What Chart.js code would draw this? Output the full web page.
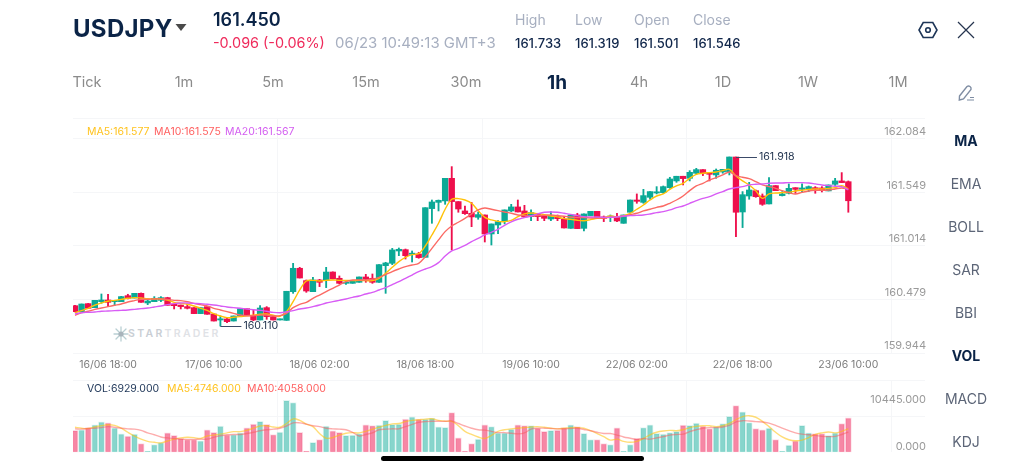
<!DOCTYPE html>
<html>
<head>
<meta charset="utf-8">
<script src="https://cdn.jsdelivr.net/npm/chart.js@4/dist/chart.umd.min.js"></script>
<style>
html,body{margin:0;padding:0;background:#fff;overflow:hidden}
body{width:1024px;height:471px;position:relative;font-family:Inter,"Noto Sans",sans-serif}
canvas{position:absolute;left:0}
.t{position:absolute;white-space:nowrap;line-height:1;transform:translateY(-50%)}
.c{transform:translate(-50%,-50%)}
.tab{font-size:14.5px;color:#8b8b8b;top:82px}
.side{font-size:14px;color:#5c6577;left:966px}
.hd{font-size:14px;color:#a7afc0;top:20px}
.val{font-size:13px;color:#10264a;font-weight:500;top:43px}
.ma{font-size:10.5px}
</style>
</head>
<body>
<div class="t" style="left:114px;top:334px;font-size:10.5px;letter-spacing:2.3px;color:#c9ced4;font-weight:600;margin-left:14px">STAR<span style="color:#dfe2e6">TRADER</span></div>
<svg style="position:absolute;left:113px;top:326px" width="16" height="16" viewBox="0 0 16 16"><g stroke="#b9cfd3" stroke-width="1.3" stroke-linecap="round"><path d="M8 1v14M1 8h14M3 3l10 10M13 3L3 13"/></g><circle cx="8" cy="8" r="2.6" fill="#a8b4bb"/></svg>
<canvas id="priceChart" width="1024" height="373" style="top:0;width:1024px;height:373px"></canvas>
<canvas id="volumeChart" width="1024" height="98" style="top:373px;width:1024px;height:98px"></canvas>

<div class="t" style="left:73px;top:29px;font-size:24px;font-weight:700;color:#0b2447;letter-spacing:.3px">USDJPY</div>
<svg style="position:absolute;left:175px;top:23px" width="12" height="9"><path d="M0.5 1h11L6 8z" fill="#4a4a4a"/></svg>
<div class="t" style="left:213px;top:20px;font-size:18px;font-weight:600;color:#0b2447">161.450</div>
<div class="t" style="left:213px;top:43px;font-size:14.4px;color:#ef2a5b">-0.096 (-0.06%)</div>
<div class="t" style="left:335px;top:43px;font-size:14.9px;color:#a7afc0">06/23 10:49:13 GMT+3</div>
<div class="t hd" style="left:515px">High</div><div class="t hd" style="left:575px">Low</div>
<div class="t hd" style="left:634px">Open</div><div class="t hd" style="left:693px">Close</div>
<div class="t val" style="left:515px">161.733</div><div class="t val" style="left:575px">161.319</div>
<div class="t val" style="left:634px">161.501</div><div class="t val" style="left:693px">161.546</div>
<svg style="position:absolute;left:917px;top:20px" width="22" height="20" viewBox="0 0 22 20" fill="none" stroke="#1d3557" stroke-width="1.6"><path d="M6.2 2.5h9.6L20 10l-4.2 7.5H6.2L2 10z"/><circle cx="11" cy="10" r="2.3"/></svg>
<svg style="position:absolute;left:957px;top:21px" width="18" height="18" fill="none" stroke="#26354f" stroke-width="1.2"><path d="M1 1l16 16M17 1L1 17"/></svg>

<div class="t tab c" style="left:87px">Tick</div><div class="t tab c" style="left:184px">1m</div>
<div class="t tab c" style="left:273px">5m</div><div class="t tab c" style="left:366px">15m</div>
<div class="t tab c" style="left:466px">30m</div>
<div class="t tab c" style="left:557px;font-size:19px;font-weight:700;color:#0b2447">1h</div>
<div class="t tab c" style="left:639px">4h</div><div class="t tab c" style="left:723px">1D</div>
<div class="t tab c" style="left:808px">1W</div><div class="t tab c" style="left:898px">1M</div>

<svg style="position:absolute;left:957px;top:84px" width="19" height="18" viewBox="0 0 19 18" fill="none" stroke="#7f8da3" stroke-width="1.4"><path d="M2.5 12L10 2.5q1.5-1 3 0t1 3L6.5 15l-4.2 1z"/><path d="M10 16h7M13 13.5h4" stroke-width="1.2"/></svg>
<div class="t side c" style="top:141px;font-weight:700;color:#0b2447">MA</div>
<div class="t side c" style="top:184px">EMA</div><div class="t side c" style="top:227px">BOLL</div>
<div class="t side c" style="top:270px">SAR</div><div class="t side c" style="top:313px">BBI</div>
<div class="t side c" style="top:356px;font-weight:700;color:#0b2447">VOL</div>
<div class="t side c" style="top:399px">MACD</div><div class="t side c" style="top:442px">KDJ</div>

<div class="t ma" style="left:87px;top:132px;color:#ffc31f">MA5:161.577</div>
<div class="t ma" style="left:154px;top:132px;color:#ff6060">MA10:161.575</div>
<div class="t ma" style="left:225px;top:132px;color:#d35cf0">MA20:161.567</div>
<div class="t ma" style="left:87px;top:389px;color:#1d3557">VOL:6929.000</div>
<div class="t ma" style="left:167px;top:389px;color:#ffc31f">MA5:4746.000</div>
<div class="t ma" style="left:247px;top:389px;color:#ff6060">MA10:4058.000</div>

<div style="position:absolute;left:381px;top:456px;width:263px;height:5px;border-radius:3px;background:#000"></div>

<script>
// USD/JPY hourly bars
const opens = [160.328,160.264,160.350,160.307,160.371,160.389,160.371,160.371,160.435,160.410,
160.460,160.357,160.371,160.385,160.414,160.346,160.335,160.318,160.307,160.243,
160.318,160.239,160.175,160.186,160.164,160.218,160.296,160.225,160.175,160.307,
160.211,160.175,160.171,160.478,160.728,160.596,160.478,160.603,160.603,160.688,
160.621,160.567,160.567,160.578,160.635,160.621,160.578,160.756,160.781,160.913,
160.927,160.877,160.881,160.845,161.366,161.433,161.448,161.690,161.441,161.341,
161.316,161.273,161.298,161.095,161.191,161.230,161.341,161.384,161.341,161.280,
161.305,161.287,161.255,161.280,161.255,161.155,161.298,161.155,161.291,161.337,
161.277,161.273,161.280,161.209,161.327,161.458,161.433,161.487,161.533,161.537,
161.590,161.662,161.712,161.690,161.744,161.783,161.751,161.726,161.758,161.761,
161.918,161.330,161.501,161.558,161.501,161.416,161.612,161.505,161.530,161.590,
161.572,161.576,161.590,161.587,161.555,161.626,161.662,161.654];
const highs = [160.332,160.346,160.352,160.385,160.453,160.450,160.385,160.428,160.450,160.460,
160.464,160.389,160.425,160.425,160.418,160.346,160.335,160.346,160.307,160.307,
160.318,160.239,160.218,160.193,160.218,160.296,160.296,160.282,160.328,160.318,
160.221,160.186,160.482,160.781,160.738,160.603,160.631,160.610,160.738,160.690,
160.646,160.585,160.592,160.635,160.663,160.667,160.767,160.792,160.941,160.945,
160.934,160.913,160.899,161.376,161.458,161.458,161.690,161.815,161.441,161.394,
161.433,161.330,161.298,161.202,161.237,161.352,161.412,161.458,161.401,161.352,
161.316,161.298,161.334,161.298,161.280,161.298,161.316,161.309,161.337,161.337,
161.287,161.298,161.316,161.298,161.458,161.523,161.572,161.548,161.601,161.608,
161.701,161.712,161.712,161.772,161.797,161.783,161.751,161.790,161.786,161.918,
161.918,161.548,161.647,161.565,161.523,161.697,161.612,161.548,161.630,161.590,
161.630,161.608,161.601,161.601,161.619,161.690,161.751,161.662];
const lows = [160.260,160.264,160.300,160.307,160.353,160.318,160.332,160.371,160.400,160.410,
160.364,160.339,160.371,160.371,160.332,160.293,160.293,160.293,160.243,160.243,
160.236,160.164,160.110,160.146,160.164,160.218,160.225,160.168,160.175,160.182,
160.175,160.175,160.171,160.460,160.624,160.471,160.478,160.532,160.521,160.614,
160.560,160.556,160.567,160.578,160.578,160.567,160.578,160.460,160.767,160.863,
160.827,160.795,160.835,160.845,161.209,161.341,161.412,160.924,161.327,161.305,
161.173,161.252,161.009,160.977,161.098,161.202,161.334,161.330,161.270,161.237,
161.237,161.237,161.237,161.237,161.159,161.155,161.152,161.127,161.291,161.273,
161.227,161.227,161.227,161.209,161.327,161.423,161.423,161.466,161.523,161.530,
161.583,161.647,161.619,161.662,161.733,161.719,161.662,161.690,161.744,161.726,
161.066,161.163,161.466,161.487,161.401,161.416,161.558,161.501,161.523,161.530,
161.537,161.548,161.530,161.544,161.555,161.612,161.644,161.327];
const closes = [160.264,160.346,160.300,160.385,160.389,160.364,160.385,160.425,160.407,160.460,
160.364,160.378,160.407,160.414,160.332,160.328,160.318,160.300,160.243,160.307,
160.236,160.164,160.186,160.157,160.218,160.296,160.225,160.175,160.303,160.211,
160.175,160.186,160.482,160.728,160.624,160.485,160.603,160.578,160.688,160.614,
160.567,160.581,160.592,160.635,160.610,160.578,160.767,160.785,160.924,160.931,
160.863,160.884,160.842,161.376,161.437,161.455,161.690,161.441,161.362,161.312,
161.277,161.302,161.095,161.202,161.227,161.352,161.384,161.330,161.277,161.323,
161.280,161.262,161.284,161.259,161.159,161.298,161.152,161.309,161.337,161.273,
161.262,161.287,161.234,161.298,161.458,161.444,161.505,161.548,161.544,161.601,
161.683,161.712,161.687,161.754,161.783,161.744,161.733,161.776,161.786,161.918,
161.327,161.515,161.565,161.494,161.412,161.612,161.558,161.523,161.583,161.572,
161.587,161.601,161.576,161.565,161.619,161.662,161.644,161.450];

// Moving averages of the close
const ma5 = [160.253,160.275,160.300,160.335,160.357,160.375,160.385,160.396,160.407,160.414,
160.410,160.403,160.400,160.400,160.389,160.364,160.353,160.343,160.325,160.300,
160.278,160.243,160.218,160.200,160.204,160.211,160.221,160.225,160.236,160.239,
160.225,160.214,160.264,160.371,160.496,160.592,160.599,160.592,160.599,160.603,
160.599,160.599,160.596,160.599,160.596,160.596,160.621,160.674,160.738,160.799,
160.845,160.874,160.884,160.966,161.084,161.209,161.359,161.466,161.473,161.458,
161.423,161.344,161.273,161.245,161.230,161.227,161.241,161.280,161.309,161.319,
161.312,161.302,161.287,161.277,161.259,161.252,161.241,161.237,161.248,161.262,
161.270,161.287,161.280,161.291,161.316,161.359,161.405,161.458,161.501,161.523,
161.572,161.608,161.637,161.690,161.733,161.744,161.751,161.758,161.772,161.786,
161.715,161.662,161.619,161.558,161.476,161.523,161.533,161.537,161.540,161.555,
161.562,161.572,161.576,161.576,161.583,161.590,161.612,161.577];
const ma10 = [160.225,160.253,160.268,160.289,160.303,160.318,160.332,160.346,160.367,160.382,
160.396,160.396,160.400,160.400,160.396,160.385,160.382,160.371,160.353,160.339,
160.325,160.300,160.282,160.264,160.246,160.228,160.221,160.221,160.228,160.228,
160.218,160.221,160.246,160.307,160.343,160.364,160.407,160.442,160.478,160.514,
160.549,160.585,160.603,160.603,160.603,160.610,160.631,160.660,160.692,160.720,
160.745,160.763,160.781,160.852,160.941,161.031,161.120,161.180,161.220,161.262,
161.309,161.352,161.373,161.359,161.344,161.330,161.316,161.298,161.291,161.287,
161.291,161.294,161.298,161.291,161.284,161.277,161.270,161.270,161.266,161.266,
161.266,161.273,161.277,161.284,161.302,161.316,161.341,161.359,161.380,161.394,
161.423,161.458,161.501,161.558,161.608,161.637,161.672,161.697,161.726,161.758,
161.719,161.701,161.687,161.655,161.619,161.601,161.583,161.558,161.537,161.523,
161.540,161.555,161.562,161.562,161.565,161.576,161.587,161.575];
const ma20 = [160.239,160.253,160.257,160.261,160.268,160.271,160.275,160.278,160.282,160.289,
160.296,160.303,160.314,160.325,160.339,160.350,160.357,160.357,160.353,160.350,
160.343,160.335,160.325,160.314,160.307,160.300,160.293,160.285,160.278,160.268,
160.257,160.253,160.261,160.275,160.293,160.303,160.318,160.335,160.357,160.371,
160.385,160.400,160.417,160.432,160.453,160.471,160.496,160.521,160.553,160.585,
160.621,160.656,160.692,160.720,160.745,160.788,160.859,160.913,160.941,160.973,
161.013,161.048,161.084,161.113,161.145,161.187,161.223,161.252,161.270,161.287,
161.309,161.327,161.330,161.327,161.316,161.305,161.291,161.280,161.277,161.277,
161.273,161.273,161.277,161.287,161.291,161.294,161.298,161.309,161.323,161.334,
161.352,161.376,161.394,161.423,161.451,161.476,161.494,161.523,161.548,161.576,
161.590,161.601,161.619,161.626,161.630,161.637,161.640,161.640,161.644,161.644,
161.644,161.640,161.630,161.619,161.612,161.605,161.601,161.567];

// Traded volume per bar with its two averages
const volumes = [4403,4529,4969,5535,6101,5913,4906,3711,3271,3648,
1761,252,1573,1950,3900,3397,2831,2579,2579,2327,
4529,4026,5284,3522,3585,3900,4906,5661,6227,5598,
3585,4089,10445,10001,4026,252,2013,2579,5284,4340,
4026,3397,3460,3774,5535,5347,5472,6416,5598,5661,
6667,7108,6667,6667,6856,5095,5032,7988,2893,252,
1761,2642,5535,5158,3900,3900,4655,5535,5347,5347,
4843,4214,4403,4466,4969,5535,5158,3837,2579,2579,
1761,1573,4906,252,1573,2831,4969,5535,3837,3648,
3963,4214,5472,5409,5850,5284,4780,5158,5787,7234,
9372,8114,5976,4780,4529,4843,2579,252,1447,2327,
5409,3900,3774,3774,3397,3900,5787,6929];
const volMa5 = [5032,4843,4780,5095,5347,5535,5409,4843,4026,3271,
2642,2202,2013,1887,2264,2642,2893,3019,2956,2768,
3271,3460,3648,3900,4151,4151,4403,4843,5284,5347,
5095,5032,5787,6730,6416,5661,5158,3774,2831,2956,
3460,3837,3963,3900,4214,4655,5032,5409,5724,5787,
6164,6416,6542,6667,6730,6416,6227,6227,5347,4214,
3585,3082,2768,3397,4214,4529,4718,4843,4969,5095,
5158,5032,4843,4718,4843,4969,4969,4843,4340,3774,
3145,2453,2642,2202,2013,2202,2768,3522,4026,4277,
4403,4340,4529,4969,5221,5347,5347,5158,5347,5787,
6542,7171,7359,7045,6227,5158,4026,3082,2516,2327,
2453,2956,3585,3900,4089,3900,4214,4746];
const volMa10 = [4718,4655,4780,4843,4969,5158,5032,4843,4718,4655,
4403,3900,3522,3082,2893,2768,2642,2579,2579,2642,
2642,3019,3334,3522,3585,3585,3774,4026,4340,4529,
4655,4843,5284,5913,5913,5661,5347,5158,4843,4718,
4655,4529,4026,3271,3585,3900,4529,4655,4718,4718,
5158,5598,6038,6164,6227,6227,6227,6290,5787,5284,
4843,4529,4466,4214,3963,3963,3837,3711,3900,4655,
4843,4843,4780,4718,4718,4780,4843,4592,4340,4026,
3774,3774,3460,3082,2831,2579,2768,2642,2893,3145,
3460,3585,3648,4151,4529,4843,4969,4969,5095,5409,
6101,6353,6290,6164,6101,5850,5409,4843,4340,3900,
3648,3522,3397,3208,3145,3208,3585,4058];

// Axis labels
const timeTickIndex = [5,21,37,53,69,85,101,117];
const timeTickLabels = ['16/06 18:00','17/06 10:00','18/06 02:00','18/06 18:00','19/06 10:00','22/06 02:00','22/06 18:00','23/06 10:00'];
const priceTicks = [162.084,161.549,161.014,160.479,159.944];
const volumeTicks = [10445,0];

// Price and volume ranges of each panel
const priceRange = [159.822,162.335];
const priceLabelRange = [159.874,162.224];
const volumeRange = [0,14411];
const volumeLabelRange = [-1264,14804];
const indexRange = [-0.30,128.6];
const gridRows = 4, gridCols = 4;

const UP = '#0ba996', DOWN = '#ee0f4c';
const isUp = i => closes[i] >= opens[i];
const pts = arr => arr.map((v,i) => ({x:i,y:v}));
const span = (a,b) => a.map((v,i) => ({x:i,y:[Math.min(v,b[i]),Math.max(v,b[i])]}));
const candleColors = opens.map((_,i) => isUp(i) ? UP : DOWN);
const volumeColors = opens.map((_,i) => isUp(i) ? 'rgba(11,169,150,.49)' : 'rgba(238,15,76,.5)');
const volumeEdges = opens.map((_,i) => isUp(i) ? 'rgba(11,169,150,.12)' : 'rgba(238,15,76,.14)');

const gridColor = '#f5f6f8';
const hiddenAxis = range => ({type:'linear',display:false,min:range[0],max:range[1]});
const gridAxis = (position,min,max,values,reverse) => ({
  type:'linear',position,min,max,reverse:!!reverse,
  border:{display:false},
  grid:{color:gridColor,lineWidth:1,drawTicks:false,offset:false},
  ticks:{display:false},
  offset:false,
  afterBuildTicks:s => { s.ticks = values.map(v => ({value:v})); },
  afterFit:s => { if (position==='bottom') s.height = 0; else s.width = 0; }
});
const labelAxis = (range,values) => ({
  type:'linear',position:'right',min:range[0],max:range[1],
  border:{display:false},
  grid:{display:false,drawTicks:false},
  afterBuildTicks:s => { s.ticks = values.map(v => ({value:v})); },
  afterFit:s => { s.width = 0; },
  ticks:{mirror:true,padding:1,color:'#9a9a9a',font:{family:'Inter',size:11},callback:v => v.toFixed(3)}
});
const indexAxis = extra => Object.assign({
  type:'linear',min:indexRange[0],max:indexRange[1],offset:false,
  grid:{display:false,drawTicks:false,offset:false},border:{display:false}
},extra);

// Leader lines naming the highest and the lowest bar of the window
const extremeLabels = {
  id:'extremeLabels',
  afterDatasetsDraw(chart){
    const {ctx,scales:{x,y}} = chart;
    const top = Math.max(...highs), bottom = Math.min(...lows);
    const hi = highs.lastIndexOf(top), lo = lows.indexOf(bottom);
    ctx.save();
    ctx.strokeStyle = '#3b4a68';ctx.lineWidth = 1;
    ctx.fillStyle = '#22344f';ctx.font = '10.6px Inter';ctx.textBaseline = 'middle';ctx.textAlign='left';
    const hx = x.getPixelForValue(hi), hy = y.getPixelForValue(top);
    ctx.beginPath();ctx.moveTo(hx,Math.round(hy)+.5);ctx.lineTo(hx+21,Math.round(hy)+.5);ctx.stroke();
    ctx.fillText(top.toFixed(3),hx+23,hy);
    const lx = x.getPixelForValue(lo), ly = y.getPixelForValue(bottom);
    ctx.beginPath();ctx.moveTo(lx,Math.round(ly)+.5);ctx.lineTo(lx+21,Math.round(ly)+.5);ctx.stroke();
    ctx.fillText(bottom.toFixed(3),lx+23,ly);
    ctx.restore();
  }
};

const base = {
  responsive:false,animation:false,
  plugins:{legend:{display:false},tooltip:{enabled:false}}
};
const maLine = (data,color,yAxisID) => ({
  type:'line',data:pts(data),borderColor:color,borderWidth:1.4,pointRadius:0,tension:.35,
  yAxisID,xAxisID:'x',order:0
});

new Chart(document.getElementById('priceChart'),{
  type:'bar',
  data:{datasets:[
    {data:span(lows,highs),backgroundColor:candleColors,barThickness:1.2,grouped:false,order:3,xAxisID:'x',yAxisID:'y',minBarLength:1},
    {data:span(opens,closes),backgroundColor:candleColors,barThickness:5.7,grouped:false,order:2,xAxisID:'x',yAxisID:'y',minBarLength:1.2},
    maLine(ma20,'#d85cf5','y'),
    maLine(ma10,'#fb6a64','y'),
    maLine(ma5,'#ffc107','y')
  ]},
  options:Object.assign({},base,{
    layout:{autoPadding:false,padding:{left:73,right:99,top:118,bottom:0}},
    scales:{
      x:indexAxis({
        position:'bottom',
        afterBuildTicks:s => { s.ticks = timeTickIndex.map(v => ({value:v})); },
        afterFit:s => { s.height = 20; },
        ticks:{autoSkip:false,maxRotation:0,padding:6,color:'#7c7c7c',font:{family:'Inter',size:10.5},
          callback:v => timeTickLabels[timeTickIndex.indexOf(v)]}
      }),
      xGrid:gridAxis('bottom',0,(925-73)/204.5,Array.from({length:gridCols},(_,i) => i+1)),
      y:hiddenAxis(priceRange),
      yLabel:labelAxis(priceLabelRange,priceTicks),
      yGrid:gridAxis('right',-0.3925,gridRows,[-0.3925,0,1,2,3,4],true)
    }
  }),
  plugins:[extremeLabels]
});

new Chart(document.getElementById('volumeChart'),{
  type:'bar',
  data:{datasets:[
    {data:pts(volumes),backgroundColor:volumeColors,borderColor:volumeEdges,borderWidth:1,borderSkipped:false,barThickness:6.2,grouped:false,order:2,xAxisID:'x',yAxisID:'y'},
    maLine(volMa10,'rgba(251,90,90,.5)','y'),
    maLine(volMa5,'rgba(255,193,7,.55)','y')
  ]},
  options:Object.assign({},base,{
    layout:{autoPadding:false,padding:{left:73,right:99,top:3,bottom:18.7}},
    scales:{
      x:indexAxis({display:false}),
      xGrid:gridAxis('bottom',0,(925-73)/204.5,Array.from({length:gridCols},(_,i) => i+1)),
      y:hiddenAxis(volumeRange),
      yLabel:labelAxis(volumeLabelRange,volumeTicks),
      yGrid:gridAxis('right',0,2,[0,1],true)
    }
  })
});
</script>
</body>
</html>
